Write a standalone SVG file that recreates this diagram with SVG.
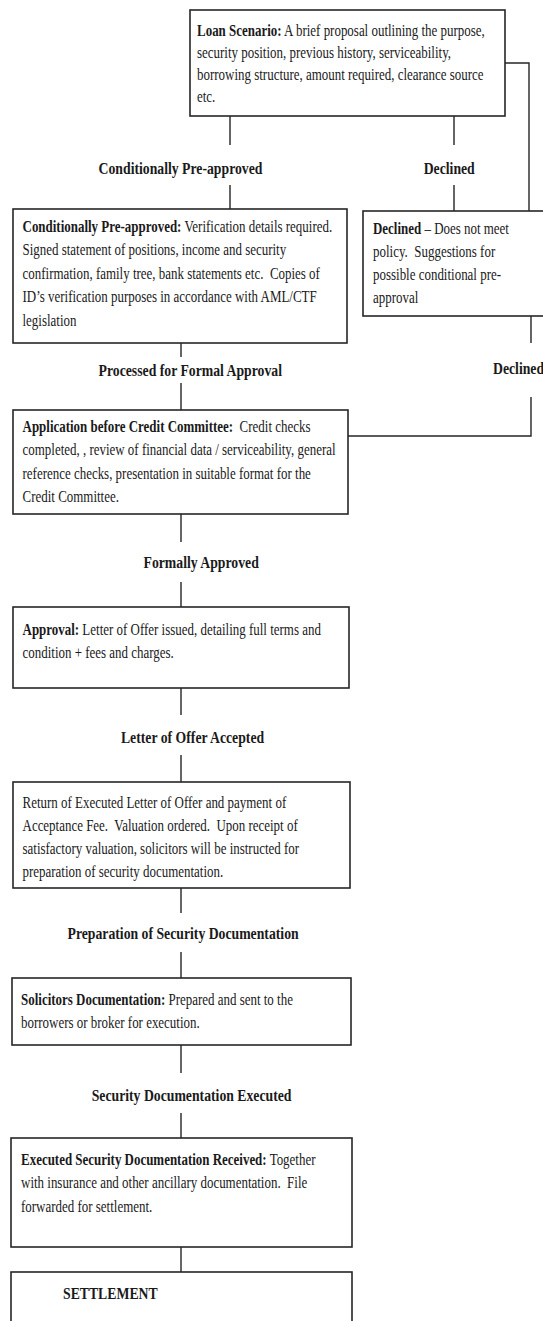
<svg xmlns="http://www.w3.org/2000/svg" width="543" height="1321" viewBox="0 0 543 1321">
<style>
.box{fill:#fff;stroke:#262626;stroke-width:1.6}
.c{fill:none;stroke:#262626;stroke-width:1.4}
.t{font-family:"Liberation Serif","Times New Roman",serif;font-size:16.5px;fill:#1a1a1a;white-space:pre}
.b{font-weight:bold}
.lbl{font-family:"Liberation Serif","Times New Roman",serif;font-size:17.5px;font-weight:bold;fill:#1a1a1a;white-space:pre}
</style>
<rect width="543" height="1321" fill="#fff"/>
<g id="connectors">
<path class="c" d="M230,116V145M230,185V209"/>
<path class="c" d="M454,116V145M454,185V211"/>
<path class="c" d="M505,63H529V211"/>
<path class="c" d="M181,343V357M181,383V410"/>
<path class="c" d="M531,316V343M531,397V436H348"/>
<path class="c" d="M181,514V542M181,582V607"/>
<path class="c" d="M181,688V715M181,755V782"/>
<path class="c" d="M181,888V913M181,952V978"/>
<path class="c" d="M181,1045V1073M181,1113V1138"/>
<path class="c" d="M181,1247V1272"/>
</g>
<g id="labels" transform="scale(0.785,1)">
<text class="lbl" x="125.6" y="174">Conditionally Pre-approved</text>
<text class="lbl" x="539.7" y="174">Declined</text>
<text class="lbl" x="125.6" y="376">Processed for Formal Approval</text>
<text class="lbl" x="628" y="374">Declined</text>
<text class="lbl" x="182.8" y="568">Formally Approved</text>
<text class="lbl" x="154.1" y="743">Letter of Offer Accepted</text>
<text class="lbl" x="86" y="939">Preparation of Security Documentation</text>
<text class="lbl" x="116.8" y="1101">Security Documentation Executed</text>
</g>
<g id="loan-scenario">
<rect class="box" x="190" y="10" width="315" height="106"/>
<g transform="scale(0.785,1)">
<text class="t" x="251" y="36"><tspan class="b">Loan Scenario:</tspan> A brief proposal outlining the purpose,</text>
<text class="t" x="251" y="58">security position, previous history, serviceability,</text>
<text class="t" x="251" y="80">borrowing structure, amount required, clearance source</text>
<text class="t" x="251" y="102">etc.</text>
</g>
</g>
<g id="conditional">
<rect class="box" x="13" y="209" width="334" height="134"/>
<g transform="scale(0.785,1)">
<text class="t" x="28.7" y="232"><tspan class="b">Conditionally Pre-approved:</tspan> Verification details required.</text>
<text class="t" x="28.7" y="255.5">Signed statement of positions, income and security</text>
<text class="t" x="28.7" y="279">confirmation, family tree, bank statements etc.  Copies of</text>
<text class="t" x="28.7" y="302.5">ID’s verification purposes in accordance with AML/CTF</text>
<text class="t" x="28.7" y="326">legislation</text>
</g>
</g>
<g id="declined">
<rect class="box" x="363" y="211" width="200" height="105"/>
<g transform="scale(0.785,1)">
<text class="t" x="475.2" y="234"><tspan class="b">Declined</tspan> – Does not meet</text>
<text class="t" x="475.2" y="257">policy.  Suggestions for</text>
<text class="t" x="475.2" y="280">possible conditional pre-</text>
<text class="t" x="475.2" y="303">approval</text>
</g>
</g>
<g id="credit-committee">
<rect class="box" x="13" y="410" width="335" height="104"/>
<g transform="scale(0.785,1)">
<text class="t" x="28.7" y="432"><tspan class="b">Application before Credit Committee:</tspan>  Credit checks</text>
<text class="t" x="28.7" y="455.5">completed, , review of financial data / serviceability, general</text>
<text class="t" x="28.7" y="479">reference checks, presentation in suitable format for the</text>
<text class="t" x="28.7" y="502.5">Credit Committee.</text>
</g>
</g>
<g id="approval">
<rect class="box" x="13" y="607" width="336" height="81"/>
<g transform="scale(0.785,1)">
<text class="t" x="28.7" y="635"><tspan class="b">Approval:</tspan> Letter of Offer issued, detailing full terms and</text>
<text class="t" x="28.7" y="658">condition + fees and charges.</text>
</g>
</g>
<g id="return-offer">
<rect class="box" x="13" y="782" width="337" height="106"/>
<g transform="scale(0.785,1)">
<text class="t" x="28.7" y="808">Return of Executed Letter of Offer and payment of</text>
<text class="t" x="28.7" y="831">Acceptance Fee.  Valuation ordered.  Upon receipt of</text>
<text class="t" x="28.7" y="854">satisfactory valuation, solicitors will be instructed for</text>
<text class="t" x="28.7" y="877">preparation of security documentation.</text>
</g>
</g>
<g id="solicitors">
<rect class="box" x="12" y="978" width="339" height="67"/>
<g transform="scale(0.785,1)">
<text class="t" x="26.8" y="1005"><tspan class="b">Solicitors Documentation:</tspan> Prepared and sent to the</text>
<text class="t" x="26.8" y="1028">borrowers or broker for execution.</text>
</g>
</g>
<g id="executed">
<rect class="box" x="11" y="1138" width="341" height="109"/>
<g transform="scale(0.785,1)">
<text class="t" x="26.8" y="1165"><tspan class="b">Executed Security Documentation Received:</tspan> Together</text>
<text class="t" x="26.8" y="1188">with insurance and other ancillary documentation.  File</text>
<text class="t" x="26.8" y="1212">forwarded for settlement.</text>
</g>
</g>
<g id="settlement">
<rect class="box" x="11" y="1272" width="341" height="70"/>
<g transform="scale(0.785,1)">
<text class="lbl" x="80.3" y="1299">SETTLEMENT</text>
</g>
</g>
</svg>
